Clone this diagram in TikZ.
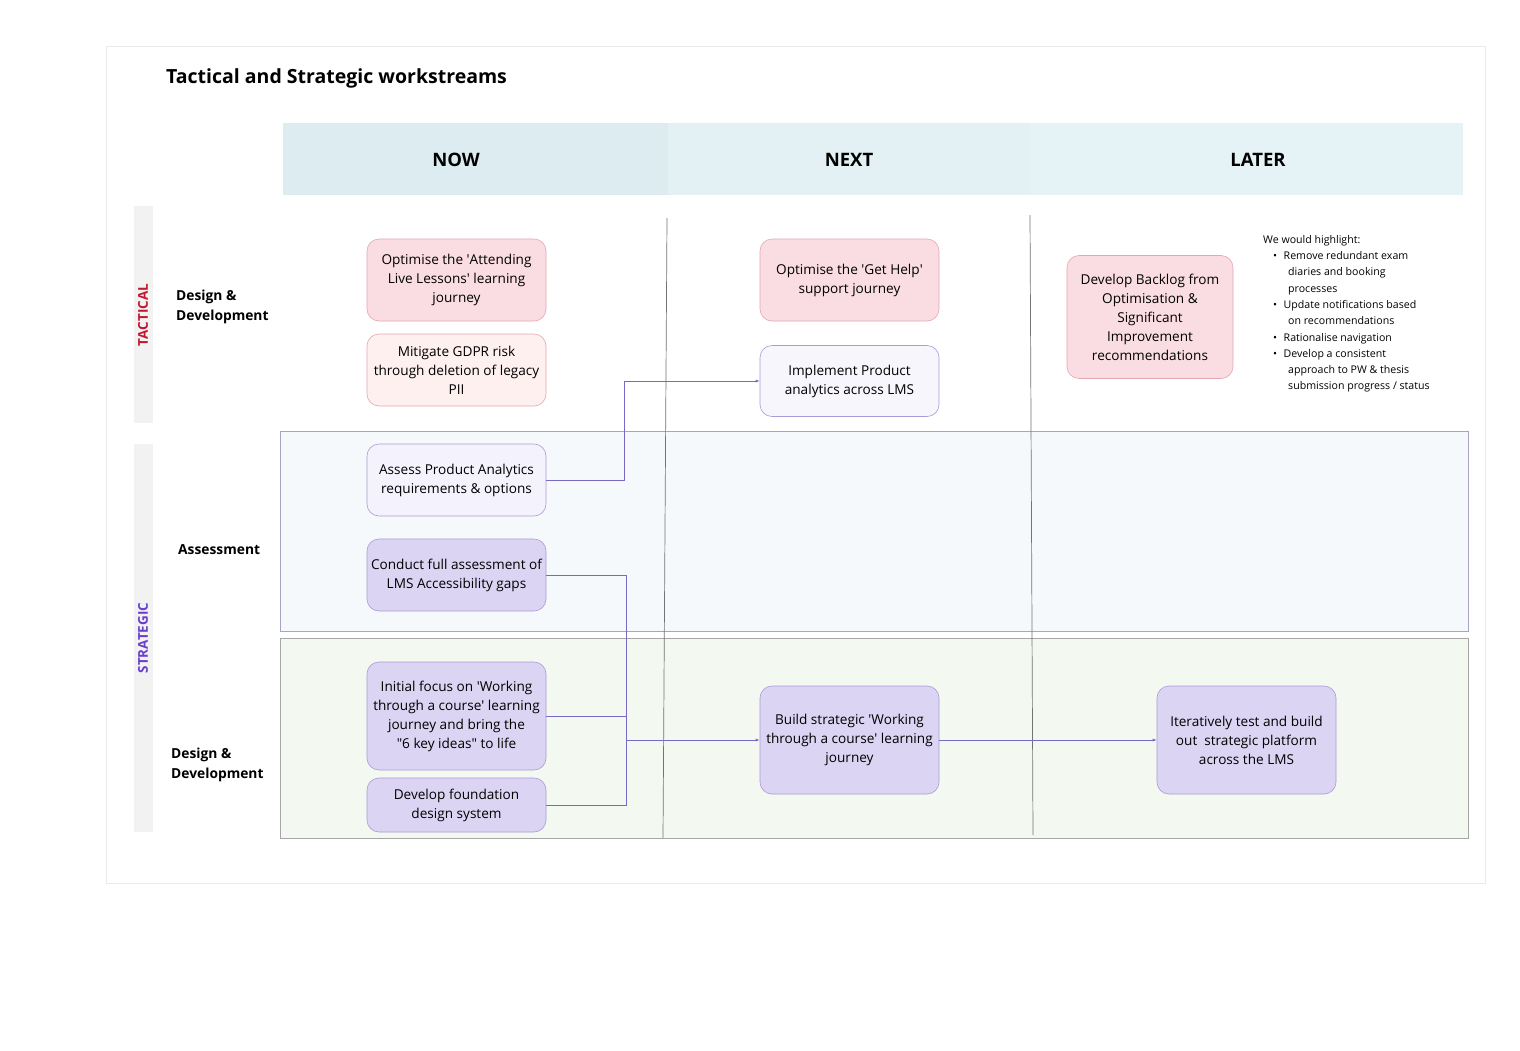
\documentclass[tikz,border=0pt]{standalone}
\usepackage{fontspec}
\setmainfont{Open Sans}
\usetikzlibrary{arrows.meta}
\newcommand{\sq}{\textquotesingle}
\newcommand{\dq}{\textquotedbl}
\definecolor{pinkf}{HTML}{FADDE2}\definecolor{pinkd}{HTML}{E3A7B0}
\definecolor{pinkl}{HTML}{FDF0EF}
\definecolor{lavl}{HTML}{F4F2FC}\definecolor{lavd}{HTML}{A99BD6}
\definecolor{lav}{HTML}{DCD4F3}\definecolor{lavb}{HTML}{F6F6FC}
\definecolor{conn}{HTML}{7A68C6}
\definecolor{h1}{HTML}{DCECF0}\definecolor{h2}{HTML}{E3F1F4}\definecolor{h3}{HTML}{E6F3F6}
\definecolor{tacc}{HTML}{C0182E}\definecolor{strc}{HTML}{6A3FD0}
\definecolor{bandA}{HTML}{F6F9FB}\definecolor{bandD}{HTML}{F3F8F1}
\definecolor{bandl}{HTML}{A8A4C4}
\begin{document}
\begin{tikzpicture}[x=1pt,y=-1pt,
 box/.style={draw=#1,rounded corners=12pt,line width=0.6pt,align=center,inner sep=1pt,font=\fontsize{13.6}{19}\selectfont},
 lab/.style={font=\bfseries\fontsize{13.8}{20}\selectfont,align=left,anchor=west},
 hdr/.style={font=\bfseries\fontsize{18.5}{22}\selectfont},
 cn/.style={draw=conn,line width=0.6pt},
 ar/.style={cn,-{Latex[length=4pt,width=3pt]}}]
\useasboundingbox (0,0) rectangle (1520,1050);
\fill[white] (0,0) rectangle (1520,1050);
\draw[black!8,line width=0.8pt] (106,46) rectangle (1485,883);
\node[anchor=west,inner sep=0pt,font=\bfseries\fontsize{19.5}{22}\selectfont] (title) at (166,78) {Tactical and Strategic workstreams};
\fill[h1] (283,123) rectangle (668,195);
\fill[h2] (668,123) rectangle (1030,195);
\fill[h3] (1030,123) rectangle (1463,195);
\node[hdr] (now) at (456,160) {NOW};
\node[hdr] (next) at (849,160) {NEXT};
\node[hdr] (later) at (1258,160) {LATER};
\fill[black!5] (134,206) rectangle (153,423);
\fill[black!5] (134,444) rectangle (153,832);
\node[rotate=90,font=\bfseries\fontsize{13.5}{16}\selectfont,text=tacc] (tac) at (143,315) {TACTICAL};
\node[rotate=90,font=\bfseries\fontsize{13.5}{16}\selectfont,text=strc] (str) at (143,638) {STRATEGIC};
\draw[fill=bandA,draw=bandl,line width=0.6pt] (280,431) rectangle (1468,631);
\draw[fill=bandD,draw=black!35,line width=0.6pt] (280,638) rectangle (1468,838);
\draw[black!55,line width=0.7pt] (667,218) -- (663,838);
\draw[black!55,line width=0.7pt] (1030,215) -- (1033,835);
\node[lab,inner sep=0pt] (l1) at (176,307) {Design \&\\Development};
\node[lab,inner sep=0pt] (l2) at (178,550) {Assessment};
\node[lab,inner sep=0pt] (l3) at (171,765) {Design \&\\Development};
\node[box=pinkd,fill=pinkf,minimum width=179pt,minimum height=82pt] (a1) at (456.5,280) {Optimise the \sq Attending\\Live Lessons\sq\ learning\\journey};
\node[box=pinkd,fill=pinkl,minimum width=179pt,minimum height=72pt] (a2) at (456.5,370) {Mitigate GDPR risk\\through deletion of legacy\\PII};
\node[box=lavd,fill=lavl,minimum width=179pt,minimum height=72pt] (a3) at (456.5,480) {Assess Product Analytics\\requirements \& options};
\node[box=lavd,fill=lav,minimum width=179pt,minimum height=72pt] (a4) at (456.5,575) {Conduct full assessment of\\LMS Accessibility gaps};
\node[box=lavd,fill=lav,minimum width=179pt,minimum height=108pt] (a5) at (456.5,716) {Initial focus on \sq Working\\through a course\sq\ learning\\journey and bring the\\\dq 6 key ideas\dq\ to life};
\node[box=lavd,fill=lav,minimum width=179pt,minimum height=54pt] (a6) at (456.5,805) {Develop foundation\\design system};
\node[box=pinkd,fill=pinkf,minimum width=179pt,minimum height=82pt] (b1) at (849.5,280) {Optimise the \sq Get Help\sq\\support journey};
\node[box=lavd,fill=lavb,minimum width=179pt,minimum height=71pt] (b2) at (849.5,381) {Implement Product\\analytics across LMS};
\node[box=lavd,fill=lav,minimum width=179pt,minimum height=108pt] (b3) at (849.5,740) {Build strategic \sq Working\\through a course\sq\ learning\\journey};
\node[box=pinkd,fill=pinkf,minimum width=166pt,minimum height=123pt] (c1) at (1150,317) {Develop Backlog from\\Optimisation \&\\Significant\\Improvement\\recommendations};
\node[box=lavd,fill=lav,minimum width=179pt,minimum height=108pt] (c2) at (1246.5,740) {Iteratively test and build\\out\ \ strategic platform\\across the LMS};
\node[anchor=north west,align=left,inner sep=0pt,font=\fontsize{10.6}{16.3}\selectfont] (notes) at (1263,235) {We would highlight:\\
\hspace*{10pt}\textbullet\hspace{6.5pt}Remove redundant exam\\\hspace*{25pt}diaries and booking\\\hspace*{25pt}processes\\
\hspace*{10pt}\textbullet\hspace{6.5pt}Update notifications based\\\hspace*{25pt}on recommendations\\
\hspace*{10pt}\textbullet\hspace{6.5pt}Rationalise navigation\\
\hspace*{10pt}\textbullet\hspace{6.5pt}Develop a consistent\\\hspace*{25pt}approach to PW \& thesis\\\hspace*{25pt}submission progress / status};
\coordinate (j) at (626,740);
\draw[ar] (a3.east) -- (624,480) -- (624,381) -- (b2.west);
\draw[cn] (a4.east) -- (626,575) -- (j);
\draw[cn] (a5.east) -- (626,716);
\draw[cn] (a6.east) -- (626,805) -- (j);
\draw[ar] (j) -- (b3.west);
\draw[ar] (b3.east) -- (c2.west);
\end{tikzpicture}
\end{document}
